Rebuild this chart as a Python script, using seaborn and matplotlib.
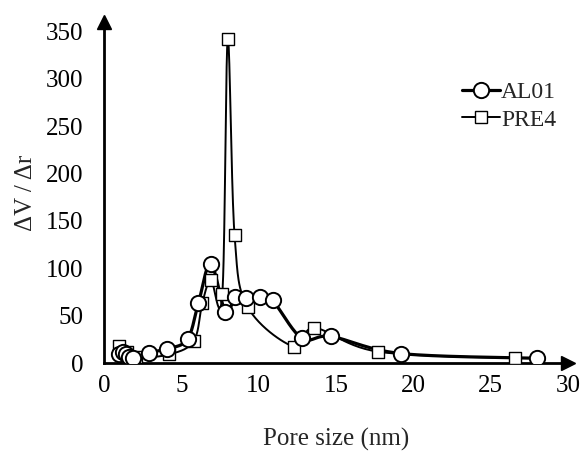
import numpy as np
import pandas as pd
import matplotlib
matplotlib.use("Agg")
import matplotlib.pyplot as plt
import seaborn as sns
from matplotlib.lines import Line2D

# Data
al01_x = [1.0, 1.2, 1.4, 1.6, 1.9, 2.9, 4.1, 5.4, 6.1, 6.9, 7.85, 8.5, 9.2, 10.1, 10.9, 12.8, 14.7, 19.2, 28.0]
al01_y = [10, 12, 9, 6, 5, 11, 15, 25, 63, 105, 54, 70, 69, 70, 66, 26, 28, 10, 5]
pre4_x = [1.0, 1.5, 2.1, 4.2, 5.8, 6.35, 6.9, 7.65, 8.0, 8.44, 9.3, 12.3, 13.6, 17.7, 26.6]
pre4_y = [18, 12, 6, 9, 23, 63, 88, 73, 342, 135, 59, 17, 37, 12, 5]
series_names = ["AL01", "PRE4"]
x_ticks = [0, 5, 10, 15, 20, 25, 30]
y_ticks = [0, 50, 100, 150, 200, 250, 300, 350]

sns.set_style("white")
plt.rcParams['font.family'] = ['Liberation Serif', 'DejaVu Serif']

FS = 18
fig = plt.figure(figsize=(5.8, 4.54), dpi=100)
ax = fig.add_axes([104/580, 1-363/454, (568-104)/580, (363-22)/454])
XMAX, YMAX = 30.0, 360.0
ax.set_xlim(0, XMAX)
ax.set_ylim(0, YMAX)


def smooth(xs, ys, n=30):
    # Excel-like smoothed line: parametric cubic Bezier (Catmull-Rom, tension 1/6) in display-normalised space
    sx, sy = 464.0 / XMAX, 341.0 / YMAX
    P = np.column_stack([np.asarray(xs, float) * sx, np.asarray(ys, float) * sy])
    out = [P[0]]
    t = np.linspace(0, 1, n)[1:, None]
    for i in range(len(P) - 1):
        p0 = P[i - 1] if i > 0 else P[i]
        p1, p2 = P[i], P[i + 1]
        p3 = P[i + 2] if i + 2 < len(P) else P[i + 1]
        c1 = p1 + (p2 - p0) / 6.0
        c2 = p2 - (p3 - p1) / 6.0
        seg = ((1 - t) ** 3) * p1 + 3 * ((1 - t) ** 2) * t * c1 + 3 * (1 - t) * t ** 2 * c2 + t ** 3 * p2
        out.extend(seg)
    out = np.array(out)
    return out[:, 0] / sx, out[:, 1] / sy


for xs, ys, lw, mk, ms in [(pre4_x, pre4_y, 1.4, 's', 8), (al01_x, al01_y, 2.3, 'o', 11)]:
    cx, cy = smooth(xs, ys)
    ax.plot(cx, cy, color='black', lw=lw, solid_joinstyle='round', zorder=3)
    sns.scatterplot(x=xs, y=ys, ax=ax, marker=mk, s=ms ** 2, facecolor='white',
                    edgecolor='black', linewidth=1.4 if mk == 'o' else 1.0, zorder=4, legend=False)

for s in ['top', 'right']:
    ax.spines[s].set_visible(False)
for s in ['left', 'bottom']:
    ax.spines[s].set_linewidth(2.0)
    ax.spines[s].set_color('black')

ax.plot(1, 0, marker='>', color='black', ms=10, transform=ax.transAxes, clip_on=False, zorder=5)
ax.plot(0, 1, marker='^', color='black', ms=10, transform=ax.transAxes, clip_on=False, zorder=5)

ax.set_xticks(x_ticks)
ax.set_yticks(y_ticks)
ax.tick_params(direction='in', length=5, width=1.5, labelsize=FS, colors='black')
ax.tick_params(axis='y', pad=15)
ax.tick_params(axis='x', pad=9)

ax.set_xlabel("Pore size (nm)", fontsize=FS, labelpad=22)
ax.set_ylabel("ΔV / Δr", fontsize=FS, labelpad=6)

handles = [Line2D([], [], color='black', lw=2.3, marker='o', ms=11, mfc='white', mec='black', mew=1.4),
           Line2D([], [], color='black', lw=1.4, marker='s', ms=8, mfc='white', mec='black')]
ax.legend(handles, series_names, loc='upper left', bbox_to_anchor=(0.772, 0.825), frameon=False,
          fontsize=17, handlelength=1.6, handletextpad=0.05, labelspacing=0.25, borderpad=0,
          borderaxespad=0)

fig.savefig("out.png", dpi=100)
